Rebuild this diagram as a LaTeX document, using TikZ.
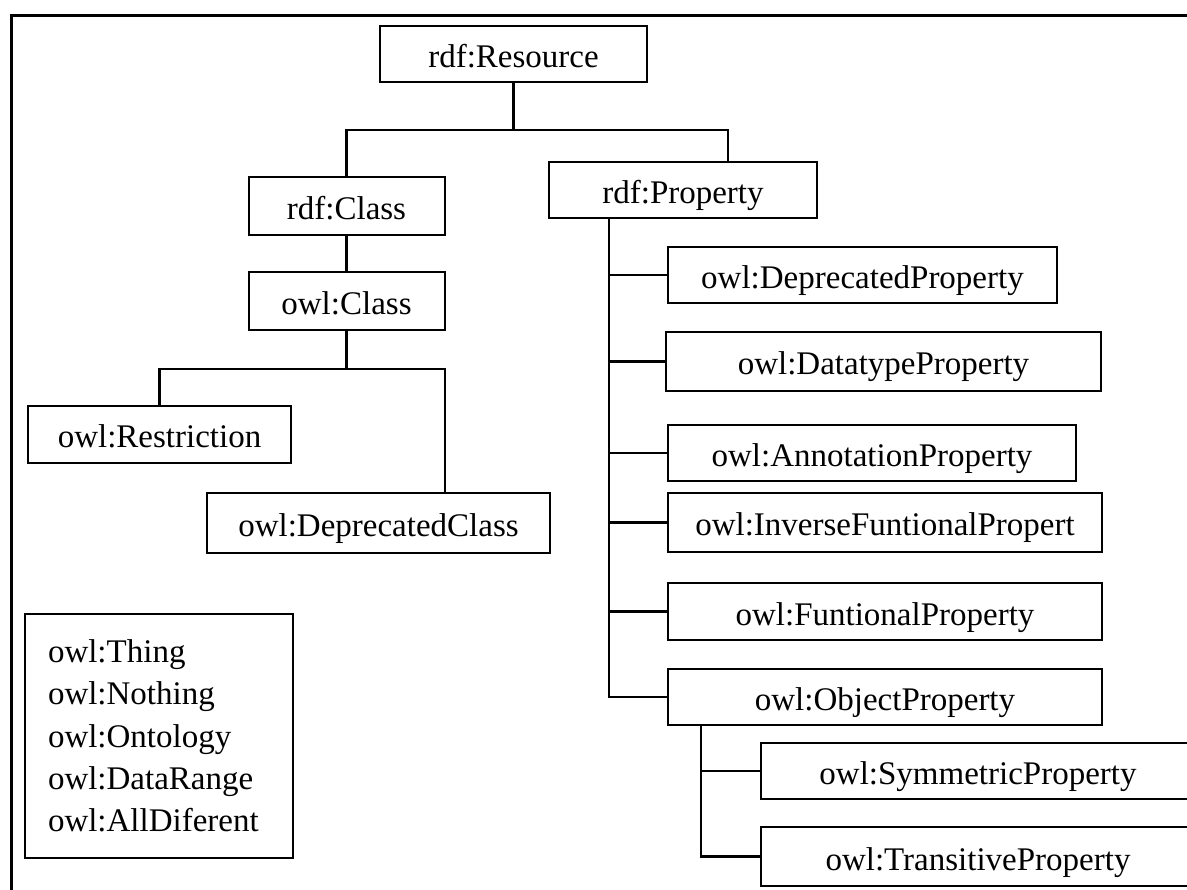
\documentclass[tikz,border=0pt]{standalone}
\usepackage{fontspec}
\setmainfont{Liberation Serif}

\newcommand{\owlfont}{\fontsize{33pt}{42.3pt}\selectfont}
\tikzset{
	owlbox/.style={draw, line width=2pt, inner sep=0pt, minimum height=57pt,
		text height=27pt, text depth=0pt, font=\owlfont},
	link/.style={line width=2.4pt}
}

\begin{document}
\begin{tikzpicture}[x=1pt,y=-1pt]
	
	\useasboundingbox (0,0) rectangle (1187,890);
	\draw[line width=3pt] (11.5,900) -- (11.5,16) -- (1200,16);
	
	% classes
	\node[owlbox, minimum width=267pt, minimum height=56pt] (res) at (513.5,54) {rdf:Resource};
	\node[owlbox, minimum width=196pt, minimum height=58pt] (rcls) at (346.5,206) {rdf:Class};
	\node[owlbox, minimum width=196pt, minimum height=58pt] (ocls) at (346.5,301) {owl:Class};
	\node[owlbox, minimum width=263pt] (restr) at (159.5,434.5) {owl:Restriction};
	\node[owlbox, minimum width=343pt, minimum height=60pt] (dcls) at (378.5,523) {owl:DeprecatedClass};
	
	% properties
	\node[owlbox, minimum width=268pt, minimum height=56pt] (rprop) at (683,190) {rdf:Property};
	\node[owlbox, minimum width=389pt, minimum height=56pt] (dprop) at (862.5,275) {owl:DeprecatedProperty};
	\node[owlbox, minimum width=435pt, minimum height=59pt] (dtprop) at (883.5,361.5) {owl:DatatypeProperty};
	\node[owlbox, minimum width=408pt, minimum height=56pt] (anprop) at (872,453) {owl:AnnotationProperty};
	\node[owlbox, minimum width=434pt, minimum height=59pt] (ifprop) at (885,522.5) {owl:InverseFuntionalPropert};
	\node[owlbox, minimum width=434pt] (fprop) at (885,611.5) {owl:FuntionalProperty};
	\node[owlbox, minimum width=434pt, minimum height=56pt] (oprop) at (885,697) {owl:ObjectProperty};
	\node[owlbox, minimum width=434pt, minimum height=56pt] (sprop) at (978,771) {owl:SymmetricProperty};
	\node[owlbox, minimum width=434pt, minimum height=59pt] (tprop) at (978,856.5) {owl:TransitiveProperty};
	
	% other terms
	\node[draw, line width=2pt, anchor=north west, minimum width=268pt, minimum height=244pt,
		inner xsep=23pt, inner ysep=0pt, text width=222pt, align=left, font=\owlfont] (misc) at (24,613)
		{owl:Thing\\owl:Nothing\\owl:Ontology\\owl:DataRange\\owl:AllDiferent};
	
	\coordinate (rjoin) at (513.5,130);
	\coordinate (cjoin) at (346.5,369);
	\coordinate (ptrunk) at ([xshift=-74pt]rprop.south);
	\coordinate (otrunk) at ([xshift=34pt]oprop.south west);
	
	\draw[link] (res.south) -- (rjoin);
	\draw[link] (rcls.north) |- (rjoin) -| ([xshift=45pt]rprop.north);
	\draw[link] (rcls) -- (ocls);
	\draw[link] (ocls.south) -- (cjoin);
	\draw[link] (restr.north) |- (cjoin) -| ([xshift=66.5pt]dcls.north);
	
	\draw[link] (ptrunk) |- (oprop.west);
	\foreach \p in {dprop,dtprop,anprop,ifprop,fprop}
		\draw[link] (ptrunk |- \p.west) -- (\p.west);
	\draw[link] (otrunk) |- (tprop.west);
	\draw[link] (otrunk |- sprop.west) -- (sprop.west);
	
\end{tikzpicture}
\end{document}
